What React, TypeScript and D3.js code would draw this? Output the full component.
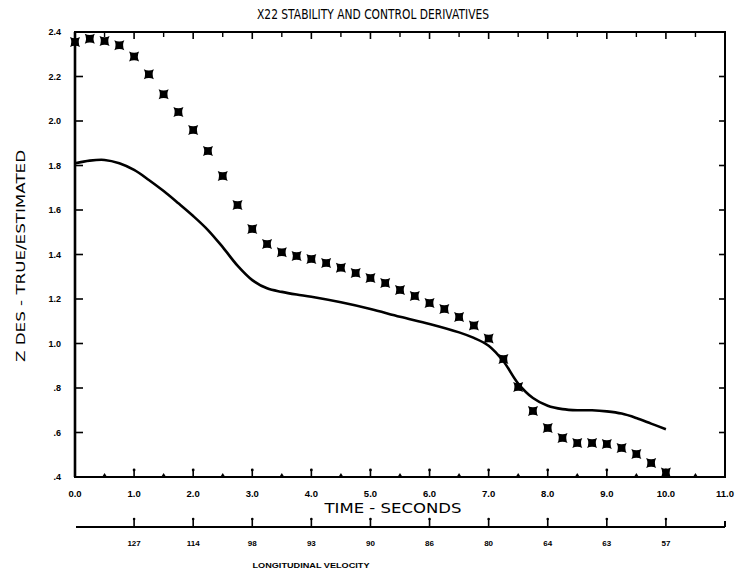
import React from "react";
import * as d3 from "d3";

const W = 744;
const H = 574;

// Estimated derivative (markers), sampled every 0.25 s
const markerTimes = d3.range(0, 10.001, 0.25);
const markerValues = [
  2.355, 2.37, 2.36, 2.34, 2.29, 2.21, 2.12, 2.04, 1.96, 1.865, 1.753, 1.622,
  1.515, 1.447, 1.41, 1.393, 1.38, 1.362, 1.34, 1.317, 1.294, 1.272, 1.24,
  1.213, 1.182, 1.155, 1.119, 1.081, 1.022, 0.93, 0.805, 0.697, 0.62, 0.575,
  0.553, 0.553, 0.548, 0.53, 0.503, 0.463, 0.42,
];

// True derivative (solid curve)
const lineTimes = [
  0, 0.25, 0.5, 0.75, 1.0, 1.25, 1.5, 1.75, 2.0, 2.25, 2.5, 2.75, 3.0, 3.25,
  3.5, 3.75, 4.0, 4.5, 5.0, 5.5, 6.0, 6.5, 6.75, 7.0, 7.25, 7.5, 7.75, 8.0,
  8.25, 8.5, 8.75, 9.0, 9.25, 9.5, 9.75, 10.0,
];
const lineValues = [
  1.81, 1.822, 1.825, 1.81, 1.78, 1.735, 1.685, 1.63, 1.573, 1.51, 1.433, 1.35,
  1.285, 1.248, 1.232, 1.22, 1.21, 1.185, 1.155, 1.12, 1.088, 1.05, 1.025, 0.99,
  0.92, 0.82, 0.755, 0.72, 0.705, 0.7, 0.7, 0.695, 0.685, 0.665, 0.64, 0.615,
];

const xTickValues = d3.range(0, 11.001, 1);
const xTickLabels = ["0.0", "1.0", "2.0", "3.0", "4.0", "5.0", "6.0", "7.0", "8.0", "9.0", "10.0", "11.0"];
const yTickValues = [2.4, 2.2, 2.0, 1.8, 1.6, 1.4, 1.2, 1.0, 0.8, 0.6, 0.4];
const yTickLabels = ["2.4", "2.2", "2.0", "1.8", "1.6", "1.4", "1.2", "1.0", ".8", ".6", ".4"];

// Secondary scale: longitudinal velocity at each second
const velocityTimes = [1, 2, 3, 4, 5, 6, 7, 8, 9, 10];
const velocityLabels = ["127", "114", "98", "93", "90", "86", "80", "64", "63", "57"];

const left = 75;
const right = 725;
const top = 32;
const bottom = 477;
const velAxisY = 527;

const x = d3.scaleLinear().domain([0, 11]).range([left, right]);
const y = d3.scaleLinear().domain([0.4, 2.4]).range([bottom, top]);

const line = d3
  .line<number>()
  .x((_, i) => x(lineTimes[i]))
  .y((d) => y(d))
  .curve(d3.curveCatmullRom.alpha(0.5));

// Bow-tie cross used for the estimated values
const s = 5;
const c = 0.5;
const markerPath = `M${-s},${-s} Q0,${-s * c} ${s},${-s} Q${s * c},0 ${s},${s} Q0,${s * c} ${-s},${s} Q${-s * c},0 ${-s},${-s} Z`;

const tickFont = "'Liberation Sans', Arial, sans-serif";
const labelFont = "'DejaVu Sans', sans-serif";

export default function App() {
  const halfTicks = d3.range(0.5, 11, 1);
  return (
    <svg
      width={W}
      height={H}
      viewBox={`0 0 ${W} ${H}`}
      style={{ position: "absolute", left: 0, top: 0, background: "#fff" }}
    >
      <text
        x={373}
        y={19}
        textAnchor="middle"
        fontFamily={labelFont}
        fontSize={13.5}
        textLength={232}
        lengthAdjust="spacingAndGlyphs"
        fill="#000"
      >
        X22 STABILITY AND CONTROL DERIVATIVES
      </text>

      {/* plot frame */}
      <rect x={left} y={top} width={right - left} height={bottom - top} fill="none" stroke="#000" strokeWidth={2} />
      <line x1={left} x2={left} y1={top} y2={bottom} stroke="#000" strokeWidth={2.6} />

      {/* top and bottom ticks */}
      {xTickValues.slice(1, -1).map((t) => (
        <g key={`xt${t}`}>
          <line x1={x(t)} x2={x(t)} y1={top} y2={top + 7} stroke="#000" strokeWidth={1.6} />
          <line x1={x(t)} x2={x(t)} y1={bottom} y2={bottom - 7} stroke="#000" strokeWidth={1.6} />
          <circle cx={x(t)} cy={bottom - 7} r={1.4} fill="#000" />
        </g>
      ))}
      {halfTicks.map((t) => (
        <g key={`xh${t}`}>
          <line x1={x(t)} x2={x(t)} y1={top} y2={top + 5} stroke="#000" strokeWidth={1.4} />
          <path d={`M${x(t) - 2.5},${bottom} L${x(t)},${bottom - 4} L${x(t) + 2.5},${bottom} Z`} fill="#000" />
        </g>
      ))}

      {/* left and right ticks */}
      {yTickValues.slice(1, -1).map((v) => (
        <g key={`yt${v}`}>
          <line x1={left} x2={left + 8} y1={y(v)} y2={y(v)} stroke="#000" strokeWidth={1.6} />
          <line x1={right} x2={right - 6} y1={y(v)} y2={y(v)} stroke="#000" strokeWidth={1.6} />
        </g>
      ))}

      {/* tick labels */}
      {yTickValues.map((v, i) => (
        <text
          key={`yl${v}`}
          x={61}
          y={y(v) + 3}
          textAnchor="end"
          fontFamily={tickFont}
          fontWeight="bold"
          fontSize={9}
          fill="#000"
        >
          {yTickLabels[i]}
        </text>
      ))}
      {xTickValues.map((t, i) => (
        <text
          key={`xl${t}`}
          x={x(t)}
          y={497}
          textAnchor="middle"
          fontFamily={tickFont}
          fontWeight="bold"
          fontSize={9.5}
          fill="#000"
        >
          {xTickLabels[i]}
        </text>
      ))}

      {/* true curve */}
      <path d={line(lineValues) ?? ""} fill="none" stroke="#000" strokeWidth={2.6} strokeLinejoin="round" />

      {/* estimated markers */}
      {markerValues.map((v, i) => (
        <path key={`m${i}`} d={markerPath} transform={`translate(${x(markerTimes[i])},${y(v)})`} fill="#000" />
      ))}

      {/* axis titles */}
      <text
        transform="translate(25,256) rotate(-90)"
        textAnchor="middle"
        fontFamily={labelFont}
        fontSize={12.5}
        textLength={212}
        lengthAdjust="spacingAndGlyphs"
        fill="#000"
      >
        Z DES - TRUE/ESTIMATED
      </text>
      <text
        x={393}
        y={513}
        textAnchor="middle"
        fontFamily={labelFont}
        fontSize={14.5}
        textLength={137}
        lengthAdjust="spacingAndGlyphs"
        fill="#000"
      >
        TIME - SECONDS
      </text>

      {/* longitudinal velocity scale */}
      <line x1={left + 1} x2={right} y1={velAxisY} y2={velAxisY} stroke="#000" strokeWidth={2} />
      {velocityTimes.map((t) => (
        <g key={`vt${t}`}>
          <line x1={x(t)} x2={x(t)} y1={velAxisY} y2={velAxisY - 8} stroke="#000" strokeWidth={1.6} />
          <circle cx={x(t)} cy={velAxisY - 8} r={1.3} fill="#000" />
        </g>
      ))}
      <line x1={right} x2={right} y1={velAxisY} y2={velAxisY - 6} stroke="#000" strokeWidth={2} />
      {velocityTimes.map((t, i) => (
        <text
          key={`vl${t}`}
          x={x(t)}
          y={546}
          textAnchor="middle"
          fontFamily={tickFont}
          fontWeight="bold"
          fontSize={8}
          fill="#000"
        >
          {velocityLabels[i]}
        </text>
      ))}
      <text
        x={311}
        y={568}
        textAnchor="middle"
        fontFamily={tickFont}
        fontWeight="bold"
        fontSize={7}
        textLength={117}
        lengthAdjust="spacingAndGlyphs"
        fill="#000"
      >
        LONGITUDINAL VELOCITY
      </text>
    </svg>
  );
}
